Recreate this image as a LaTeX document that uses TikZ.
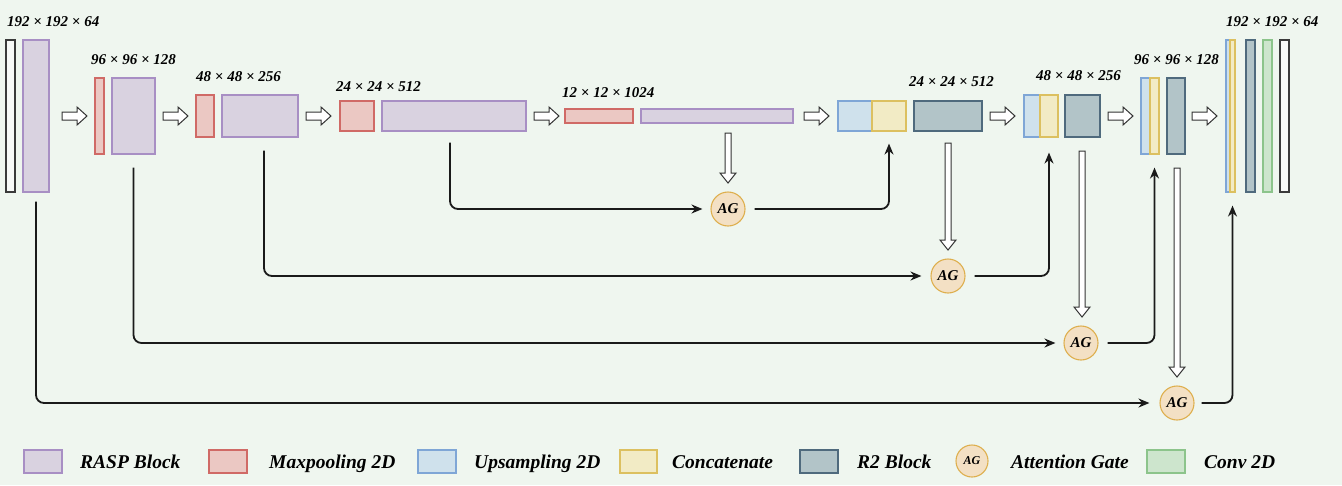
\documentclass[tikz,border=0pt]{standalone}
\usepackage{fontspec}
\setmainfont{Liberation Serif}
\usetikzlibrary{fit,arrows.meta}
\definecolor{bgc}{HTML}{EFF6EF}
\definecolor{raspF}{HTML}{D9D2E0}\definecolor{raspD}{HTML}{A88FC4}
\definecolor{mpF}{HTML}{EBC8C3}\definecolor{mpD}{HTML}{D06A66}
\definecolor{upF}{HTML}{CFE1EC}\definecolor{upD}{HTML}{7FA6D6}
\definecolor{ccF}{HTML}{F2EBC5}\definecolor{ccD}{HTML}{DCC060}
\definecolor{r2F}{HTML}{B2C4C8}\definecolor{r2D}{HTML}{4F6A7D}
\definecolor{agF}{HTML}{F3E0C4}\definecolor{agD}{HTML}{DEAF4E}
\definecolor{cvF}{HTML}{CDE5CD}\definecolor{cvD}{HTML}{8CC48B}
\definecolor{wbF}{HTML}{F7F9F7}\definecolor{wbD}{HTML}{3A3A3A}
\definecolor{lineC}{HTML}{1A1A1A}
\definecolor{holD}{HTML}{333333}
\tikzset{
 blk/.style={inner sep=0pt, line width=1.1pt},
 rasp/.style={blk, fill=raspF, draw=raspD},
 mp/.style={blk, fill=mpF, draw=mpD},
 up/.style={blk, fill=upF, draw=upD},
 cc/.style={blk, fill=ccF, draw=ccD},
 rtwo/.style={blk, fill=r2F, draw=r2D},
 cv/.style={blk, fill=cvF, draw=cvD},
 wb/.style={blk, fill=wbF, draw=wbD},
 ag/.style={circle, inner sep=0pt, minimum size=34pt, fill=agF, draw=agD, line width=1.1pt, font=\fontsize{15}{15}\selectfont\bfseries\itshape},
 conn/.style={line width=1.8pt, draw=lineC, rounded corners=8pt, -{Stealth[length=11pt,width=9pt]}},
 hol/.style={draw=holD, fill=white, line width=1pt, line join=miter},
 harr/.pic={\draw[hol] (0,-4)--(15,-4)--(15,-9)--(25,0)--(15,9)--(15,4)--(0,4)--cycle;},
 varr/.pic={\draw[hol] (-3,0)--(-3,#1-10)--(-8,#1-10)--(0,#1)--(8,#1-10)--(3,#1-10)--(3,0)--cycle;},
 dim/.style={font=\fontsize{15}{15}\selectfont\bfseries\itshape, anchor=west, inner sep=0pt},
 leg/.style={font=\fontsize{19.5}{19.5}\selectfont\bfseries\itshape, anchor=base west, inner sep=0pt},
}
\begin{document}
\begin{tikzpicture}[x=1pt,y=-1pt]
\fill[bgc] (0,0) rectangle (1342,485);
\useasboundingbox (0,0) rectangle (1342,485);
% encoder
\node[wb, fit={(6,40)(15,192)}] (in0) {};
\node[rasp, fit={(23,40)(49,192)}] (r1) {};
\node[mp, fit={(95,78)(104,154)}] (m2) {};
\node[rasp, fit={(112,78)(155,154)}] (r2) {};
\node[mp, fit={(196,95)(214,137)}] (m3) {};
\node[rasp, fit={(222,95)(298,137)}] (r3) {};
\node[mp, fit={(340,101)(374,131)}] (m4) {};
\node[rasp, fit={(382,101)(526,131)}] (r4) {};
\node[mp, fit={(565,109)(633,123)}] (m5) {};
\node[rasp, fit={(641,109)(793,123)}] (r5) {};
% decoder
\node[up, fit={(838,101)(872,131)}] (u1) {};
\node[cc, fit={(872,101)(906,131)}] (c1) {};
\node[rtwo, fit={(914,101)(982,131)}] (d1) {};
\node[up, fit={(1024,95)(1040,137)}] (u2) {};
\node[cc, fit={(1040,95)(1058,137)}] (c2) {};
\node[rtwo, fit={(1065,95)(1100,137)}] (d2) {};
\node[up, fit={(1141,78)(1150,154)}] (u3) {};
\node[cc, fit={(1150,78)(1159,154)}] (c3) {};
\node[rtwo, fit={(1167,78)(1185,154)}] (d3) {};
\node[up, fit={(1226,40)(1230,192)}] (u4) {};
\node[cc, fit={(1230,40)(1235,192)}] (c4) {};
\node[rtwo, fit={(1246,40)(1255,192)}] (d4) {};
\node[cv, fit={(1263,40)(1272,192)}] (cv1) {};
\node[wb, fit={(1280,40)(1289,192)}] (out) {};
% labels
\node[dim] (l1) at (7,22) {192 × 192 × 64};
\node[dim] (l2) at (91,60) {96 × 96 × 128};
\node[dim] (l3) at (196,77) {48 × 48 × 256};
\node[dim] (l4) at (336,87) {24 × 24 × 512};
\node[dim] (l5) at (562,93) {12 × 12 × 1024};
\node[dim] (l6) at (909,82) {24 × 24 × 512};
\node[dim] (l7) at (1036,76) {48 × 48 × 256};
\node[dim] (l8) at (1134,60) {96 × 96 × 128};
\node[dim] (l9) at (1226,22) {192 × 192 × 64};
% hollow horizontal arrows
\foreach \x in {62,163,306,534,804,990,1108,1192} \pic at (\x,116) {harr};
% attention gates
\node[ag] (ag1) at (728,209) {AG};
\node[ag] (ag2) at (948,276) {AG};
\node[ag] (ag3) at (1081,343) {AG};
\node[ag] (ag4) at (1177,403) {AG};
% hollow vertical arrows
\pic at (728,133) {varr=50};
\pic at (948,143) {varr=107};
\pic at (1082,151) {varr=166};
\pic at (1177,168) {varr=209};
% skip connections
\draw[conn] ([xshift=-4pt,yshift=-11pt]r4.south) |- ([xshift=-8pt]ag1.west);
\draw[conn] ([xshift=4pt,yshift=-13pt]r3.south) |- ([xshift=-9pt]ag2.west);
\draw[conn] ([yshift=-13pt]r2.south) |- ([xshift=-8pt]ag3.west);
\draw[conn] ([yshift=-9pt]r1.south) |- ([xshift=-10pt]ag4.west);
% gate outputs
\draw[conn] ([xshift=9pt]ag1.east) -| ([yshift=-12pt]c1.south);
\draw[conn] ([xshift=9pt]ag2.east) -| ([yshift=-15pt]c2.south);
\draw[conn] ([xshift=9pt]ag3.east) -| ([yshift=-13pt]c3.south);
\draw[conn] ([xshift=7pt]ag4.east) -| ([yshift=-13pt]c4.south);
% legend
\node[rasp, fit={(24,450)(62,473)}] (k1) {};
\node[leg] (t1) at (80,468) {RASP Block};
\node[mp, fit={(209,450)(247,473)}] (k2) {};
\node[leg] (t2) at (269,468) {Maxpooling 2D};
\node[up, fit={(418,450)(456,473)}] (k3) {};
\node[leg] (t3) at (474,468) {Upsampling 2D};
\node[cc, fit={(620,450)(657,473)}] (k4) {};
\node[leg] (t4) at (672,468) {Concatenate};
\node[rtwo, fit={(800,450)(838,473)}] (k5) {};
\node[leg] (t5) at (857,468) {R2 Block};
\node[ag, minimum size=32pt, font=\fontsize{12}{12}\selectfont\bfseries\itshape] (k6) at (972,461) {AG};
\node[leg] (t6) at (1011,468) {Attention Gate};
\node[cv, fit={(1147,450)(1185,473)}] (k7) {};
\node[leg] (t7) at (1204,468) {Conv 2D};
\end{tikzpicture}
\end{document}
